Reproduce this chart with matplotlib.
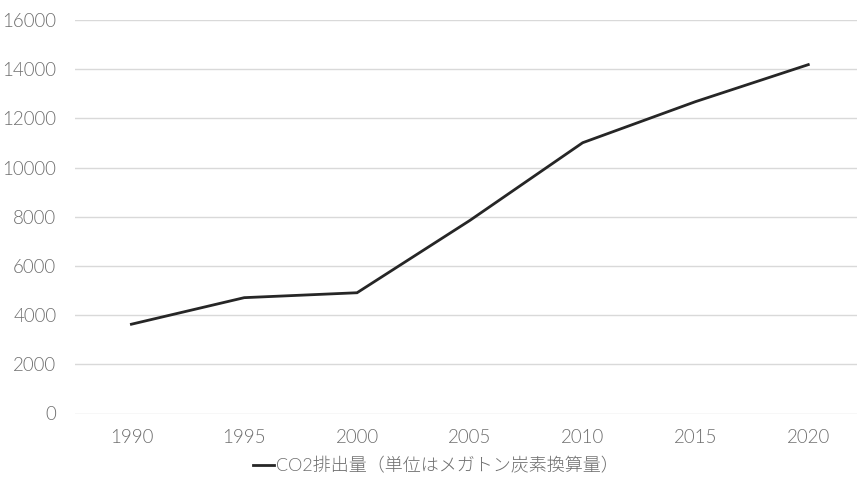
import matplotlib
matplotlib.use("Agg")
import matplotlib.pyplot as plt

plt.rcParams['font.family'] = ['Lato', 'Noto Sans CJK JP', 'DejaVu Sans']
plt.rcParams['font.weight'] = 300

years = ["1990", "1995", "2000", "2005", "2010", "2015", "2020"]
emissions = [3630, 4710, 4910, 7850, 11010, 12680, 14185]
series_label = "CO2排出量（単位はメガトン炭素換算量）"
y_ticks = [0, 2000, 4000, 6000, 8000, 10000, 12000, 14000, 16000]

W, H = 857, 479
fig = plt.figure(figsize=(W / 100, H / 100), dpi=100)
ax = fig.add_axes([75 / W, (H - 413.5) / H, (W - 75) / W, (413.5 - 20) / H])

x = list(range(len(years)))
line, = ax.plot(x, emissions, color="#262626", linewidth=2.0, solid_joinstyle="miter",
                label=series_label)

ax.set_ylim(0, 16000)
ax.set_xlim(-0.5, 6.5 - (864.7 - W) / 112.8)
ax.set_yticks(y_ticks)
ax.set_yticklabels([str(v) for v in y_ticks])
ax.set_xticks(x)
ax.set_xticklabels(years)

ax.grid(axis="y", color="#d9d9d9", linewidth=1.0)
ax.set_axisbelow(True)
for s in ax.spines.values():
    s.set_visible(False)
ax.tick_params(axis="both", length=0, colors="#6e6e6e", labelsize=13.5)
ax.tick_params(axis="y", pad=13.5)
ax.tick_params(axis="x", pad=11.5)

leg = fig.legend(handles=[line], loc="center", bbox_to_anchor=(436 / W, 1 - 466 / H),
                 frameon=False, fontsize=13, handlelength=1.15, handletextpad=0.15,
                 labelcolor="#6e6e6e")

fig.savefig("out.png", dpi=100)
